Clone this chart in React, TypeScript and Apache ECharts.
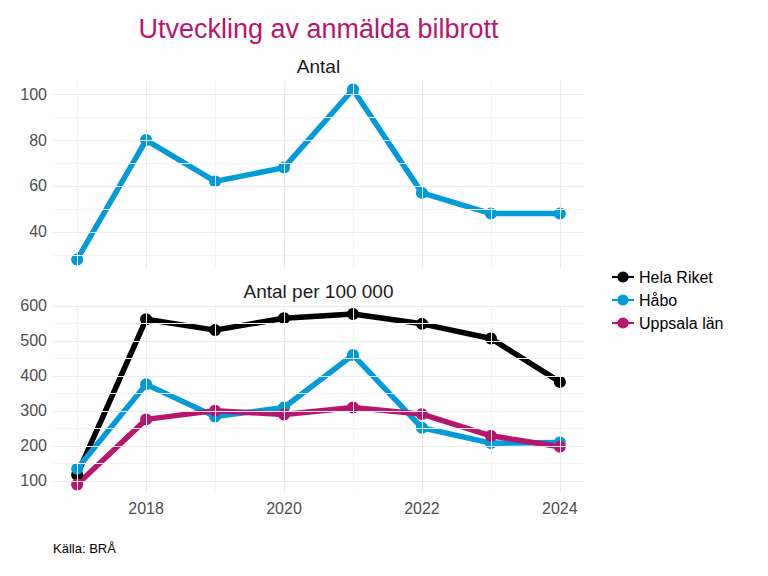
import { useEffect, useRef } from "react";
import * as echarts from "echarts";

// Data
const years = [2017, 2018, 2019, 2020, 2021, 2022, 2023, 2024];
const haboCount = [28, 80, 62, 68, 102, 57, 48, 48];
const helaRiketPer100k = [118, 562, 531, 565, 577, 549, 507, 383];
const haboPer100k = [135, 376, 284, 310, 460, 252, 208, 210];
const uppsalaPer100k = [90, 276, 301, 290, 310, 291, 229, 198];

const seriesNames = ["Hela Riket", "Håbo", "Uppsala län"];
const seriesColors = ["#000000", "#009BD8", "#B8156E"];

// Axis ticks (major labelled, minor only gridlines)
const xLabelTicks = [2018, 2020, 2022, 2024];
const xMinorTicks = [2017, 2019, 2021, 2023];
const topYTicks = [40, 60, 80, 100];
const topYMinor = [30, 50, 70, 90];
const bottomYTicks = [100, 200, 300, 400, 500, 600];
const bottomYMinor = [150, 250, 350, 450, 550];

const FONT = "'Liberation Sans', Arial, sans-serif";
const MAJOR = "#EBEBEB";
const MINOR = "#F4F4F4";

// ggplot-like 5% expansion
function expand(vals: number[]): [number, number] {
  const lo = Math.min(...vals);
  const hi = Math.max(...vals);
  const pad = (hi - lo) * 0.05;
  return [lo - pad, hi + pad];
}

function gridLines(xMajor: number[], xMinor: number[], yMajor: number[], yMinor: number[]) {
  const ln = (color: string) => ({ color, width: 1, type: "solid" as const });
  return [
    ...xMinor.map((v) => ({ xAxis: v, lineStyle: ln(MINOR) })),
    ...yMinor.map((v) => ({ yAxis: v, lineStyle: ln(MINOR) })),
    ...xMajor.map((v) => ({ xAxis: v, lineStyle: ln(MAJOR) })),
    ...yMajor.map((v) => ({ yAxis: v, lineStyle: ln(MAJOR) })),
  ];
}

const pairs = (ys: number[]) => years.map((y, i) => [y, ys[i]]);

export default function App() {
  const ref = useRef<HTMLDivElement>(null);

  useEffect(() => {
    document.body.style.margin = "0";
    if (!ref.current) return;
    const chart = echarts.init(ref.current, null, { renderer: "svg" });

    const [xMin, xMax] = expand(years);
    const [tMin, tMax] = expand(haboCount);
    const [bMin, bMax] = expand([...helaRiketPer100k, ...haboPer100k, ...uppsalaPer100k]);

    const labelStyle = { color: "#4D4D4D", fontSize: 16, fontFamily: FONT };
    const only = (list: number[]) => (v: number) => (list.includes(v) ? String(v) : "");

    const baseX = (idx: number, showLabels: boolean) => ({
      type: "value" as const,
      gridIndex: idx,
      min: xMin,
      max: xMax,
      axisLine: { show: false },
      axisTick: { show: false },
      splitLine: { show: false },
      axisLabel: showLabels
        ? { ...labelStyle, margin: 7, customValues: xLabelTicks, formatter: only(xLabelTicks) }
        : { show: false },
    });

    const baseY = (idx: number, min: number, max: number, ticks: number[]) => ({
      type: "value" as const,
      gridIndex: idx,
      min,
      max,
      axisLine: { show: false },
      axisTick: { show: false },
      splitLine: { show: false },
      axisLabel: { ...labelStyle, margin: 6, customValues: ticks, formatter: only(ticks) },
    });

    const gridSeries = (idx: number, lines: any[]) => ({
      type: "line" as const,
      xAxisIndex: idx,
      yAxisIndex: idx,
      data: [],
      silent: true,
      z: 1,
      markLine: {
        silent: true,
        symbol: ["none", "none"],
        label: { show: false },
        animation: false,
        data: lines,
      },
    });

    const lineSeries = (name: string, color: string, idx: number, ys: number[]) => ({
      name,
      type: "line" as const,
      xAxisIndex: idx,
      yAxisIndex: idx,
      data: pairs(ys),
      symbol: "circle",
      symbolSize: 11,
      showSymbol: false,
      lineStyle: { color, width: 5.5 },
      itemStyle: { color, borderWidth: 0 },
      z: 3,
    });

    const pointSeries = (name: string, color: string, idx: number, ys: number[]) => ({
      name,
      type: "scatter" as const,
      xAxisIndex: idx,
      yAxisIndex: idx,
      data: pairs(ys),
      symbol: "circle",
      symbolSize: 12,
      itemStyle: { color, borderWidth: 0, opacity: 1 },
      z: 4,
    });

    const bottomData = [helaRiketPer100k, haboPer100k, uppsalaPer100k];

    chart.setOption({
      animation: false,
      backgroundColor: "#ffffff",
      textStyle: { fontFamily: FONT },
      grid: [
        { left: 53, width: 531, top: 81, height: 187 },
        { left: 53, width: 531, top: 305.5, height: 187.5 },
      ],
      xAxis: [baseX(0, false), baseX(1, true)],
      yAxis: [baseY(0, tMin, tMax, topYTicks), baseY(1, bMin, bMax, bottomYTicks)],
      legend: {
        orient: "vertical",
        left: 606,
        top: 264,
        itemWidth: 22,
        itemHeight: 14,
        itemGap: 7,
        data: seriesNames,
        textStyle: { color: "#000", fontSize: 16, fontFamily: FONT },
      },
      graphic: [
        {
          type: "text",
          x: 318.5,
          y: 29,
          style: {
            text: "Utveckling av anmälda bilbrott",
            fill: "#B8156E",
            fontSize: 27,
            fontFamily: FONT,
            textAlign: "center",
            textVerticalAlign: "middle",
          },
        },
        {
          type: "text",
          x: 318.5,
          y: 66,
          style: {
            text: "Antal",
            fill: "#1A1A1A",
            fontSize: 19,
            fontFamily: FONT,
            textAlign: "center",
            textVerticalAlign: "middle",
          },
        },
        {
          type: "text",
          x: 318.5,
          y: 291,
          style: {
            text: "Antal per 100 000",
            fill: "#1A1A1A",
            fontSize: 19,
            fontFamily: FONT,
            textAlign: "center",
            textVerticalAlign: "middle",
          },
        },
        {
          type: "text",
          x: 53,
          y: 548,
          style: {
            text: "Källa: BRÅ",
            fill: "#000",
            fontSize: 13,
            fontFamily: FONT,
            textAlign: "left",
            textVerticalAlign: "middle",
          },
        },
      ],
      series: [
        gridSeries(0, gridLines(xLabelTicks, xMinorTicks, topYTicks, topYMinor)),
        gridSeries(1, gridLines(xLabelTicks, xMinorTicks, bottomYTicks, bottomYMinor)),
        lineSeries("Håbo", seriesColors[1], 0, haboCount),
        ...seriesNames.map((n, i) => lineSeries(n, seriesColors[i], 1, bottomData[i])),
        pointSeries("Håbo", seriesColors[1], 0, haboCount),
        ...seriesNames.map((n, i) => pointSeries(n, seriesColors[i], 1, bottomData[i])),
      ],
    });

    return () => chart.dispose();
  }, []);

  return <div ref={ref} style={{ width: 768, height: 576 }} />;
}
